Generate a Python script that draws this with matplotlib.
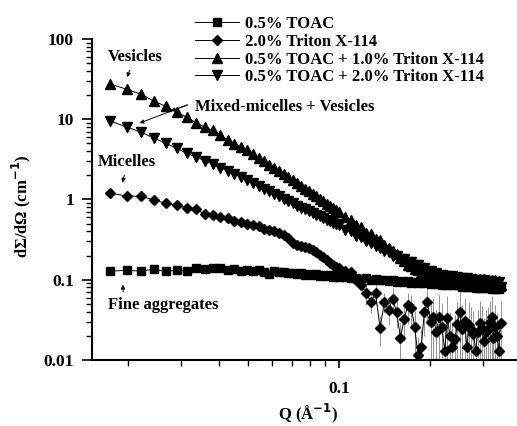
import matplotlib
matplotlib.use("Agg")
import matplotlib.pyplot as plt
from matplotlib.ticker import LogLocator, NullFormatter, FixedLocator, FixedFormatter

plt.rcParams["font.family"] = ["Liberation Serif", "DejaVu Serif"]
plt.rcParams["font.weight"] = "bold"
plt.rcParams["mathtext.default"] = "bf"

# scattering vector Q (1/A)
q = [0.0175, 0.0198, 0.0221, 0.0244, 0.0267, 0.0290, 0.0313, 0.0336, 0.0359, 0.0382,
     0.0405, 0.0428, 0.0451, 0.0474, 0.0497, 0.0520, 0.0543, 0.0566, 0.0589, 0.0612,
     0.0635, 0.0658, 0.0681, 0.0704, 0.0727, 0.0750, 0.0773, 0.0796, 0.0819, 0.0842,
     0.0865, 0.0888, 0.0911, 0.0934, 0.0957, 0.0980, 0.1003, 0.1049, 0.1095, 0.1141,
     0.1187, 0.1233, 0.1279, 0.1325, 0.1371, 0.1417, 0.1463, 0.1509, 0.1555, 0.1601,
     0.1647, 0.1693, 0.1739, 0.1785, 0.1831, 0.1877, 0.1923, 0.1969, 0.2015, 0.2061,
     0.2107, 0.2153, 0.2199, 0.2245, 0.2291, 0.2337, 0.2383, 0.2429, 0.2475, 0.2521,
     0.2567, 0.2613, 0.2659, 0.2705, 0.2751, 0.2797, 0.2843, 0.2889, 0.2935, 0.2981,
     0.3027, 0.3073, 0.3119, 0.3165, 0.3211, 0.3257, 0.3303, 0.3349, 0.3395, 0.3441]

# 0.5% TOAC
toac = [0.128, 0.131, 0.128, 0.135, 0.127, 0.131, 0.128, 0.138, 0.136, 0.140,
        0.138, 0.131, 0.135, 0.130, 0.133, 0.129, 0.131, 0.126, 0.118, 0.127,
        0.124, 0.125, 0.121, 0.123, 0.119, 0.121, 0.116, 0.119, 0.113, 0.117,
        0.112, 0.115, 0.110, 0.113, 0.109, 0.111, 0.107, 0.108, 0.104, 0.106,
        0.102, 0.104, 0.099, 0.102, 0.098, 0.100, 0.096, 0.099, 0.095, 0.097,
        0.093, 0.096, 0.092, 0.095, 0.091, 0.094, 0.090, 0.093, 0.089, 0.092,
        0.088, 0.091, 0.087, 0.090, 0.086, 0.089, 0.085, 0.088, 0.085, 0.087,
        0.081, 0.088, 0.080, 0.087, 0.080, 0.086, 0.079, 0.086, 0.079, 0.085,
        0.078, 0.085, 0.078, 0.084, 0.077, 0.084, 0.077, 0.083, 0.076, 0.082]

# 2.0% Triton X-114
triton = [1.20, 1.10, 1.10, 0.98, 0.90, 0.85, 0.78, 0.76, 0.66, 0.64,
          0.61, 0.58, 0.54, 0.52, 0.50, 0.48, 0.47, 0.43, 0.42, 0.40,
          0.385, 0.36, 0.33, 0.29, 0.27, 0.265, 0.255, 0.245, 0.235, 0.222,
          0.205, 0.19, 0.175, 0.162, 0.152, 0.145, 0.138, 0.13, 0.125, 0.10,
          0.085, 0.068, 0.053, 0.068, 0.025, 0.053, 0.042, 0.058, 0.040, 0.019,
          0.032, 0.048, 0.045, 0.026, 0.0115, 0.0145, 0.040, 0.053, 0.030, 0.034,
          0.022, 0.034, 0.026, 0.013, 0.033, 0.020, 0.0145, 0.018, 0.028, 0.040,
          0.024, 0.031, 0.0145, 0.027, 0.024, 0.021, 0.013, 0.022, 0.029, 0.025,
          0.017, 0.022, 0.024, 0.030, 0.034, 0.019, 0.026, 0.020, 0.013, 0.029]

# error bars of the noisy Triton points (from index 41 on)
err_start = 41
triton_err = [0.02, 0.015, 0.02, 0.01, 0.015, 0.015, 0.02, 0.015, 0.01,
              0.015, 0.02, 0.02, 0.015, 0.008, 0.01, 0.02, 0.025, 0.02, 0.025,
              0.02, 0.03, 0.025, 0.012, 0.03, 0.02, 0.015, 0.018, 0.025, 0.03,
              0.024, 0.028, 0.014, 0.026, 0.022, 0.02, 0.012, 0.02, 0.025, 0.022,
              0.016, 0.02, 0.022, 0.025, 0.028, 0.018, 0.022, 0.018, 0.012, 0.025]

# 0.5% TOAC + 1.0% Triton X-114
mix1 = [27.5, 23.6, 20.5, 16.8, 14.5, 12.2, 10.6, 9.1, 7.95, 7.3,
        6.34, 5.57, 4.95, 4.48, 4.09, 3.68, 3.31, 2.99, 2.71, 2.46,
        2.25, 2.06, 1.89, 1.74, 1.60, 1.48, 1.37, 1.27, 1.18, 1.09,
        1.02, 0.95, 0.89, 0.83, 0.78, 0.735, 0.70, 0.60, 0.56, 0.48,
        0.45, 0.38, 0.37, 0.32, 0.31, 0.27, 0.25, 0.225, 0.21, 0.185,
        0.172, 0.152, 0.148, 0.135, 0.134, 0.121, 0.123, 0.110, 0.114, 0.106,
        0.115, 0.099, 0.114, 0.097, 0.112, 0.095, 0.110, 0.094, 0.108, 0.093,
        0.106, 0.092, 0.105, 0.091, 0.104, 0.090, 0.103, 0.089, 0.102, 0.088,
        0.101, 0.087, 0.100, 0.086, 0.099, 0.086, 0.098, 0.085, 0.097, 0.085]

# 0.5% TOAC + 2.0% Triton X-114
mix2 = [9.5, 8.0, 6.9, 5.8, 5.0, 4.35, 3.78, 3.37, 3.05, 2.76,
        2.50, 2.29, 2.10, 1.90, 1.75, 1.61, 1.48, 1.37, 1.26, 1.17,
        1.09, 1.02, 0.953, 0.896, 0.840, 0.794, 0.754, 0.717, 0.682, 0.647,
        0.620, 0.590, 0.562, 0.536, 0.511, 0.489, 0.475, 0.42, 0.40, 0.355,
        0.34, 0.30, 0.29, 0.26, 0.25, 0.225, 0.222, 0.20, 0.199, 0.183,
        0.182, 0.168, 0.166, 0.153, 0.154, 0.140, 0.139, 0.128, 0.129, 0.118,
        0.121, 0.106, 0.115, 0.101, 0.112, 0.099, 0.110, 0.097, 0.108, 0.095,
        0.106, 0.093, 0.104, 0.091, 0.102, 0.090, 0.100, 0.089, 0.099, 0.088,
        0.098, 0.086, 0.096, 0.085, 0.095, 0.084, 0.094, 0.083, 0.093, 0.082]

labels = ["0.5% TOAC", "2.0% Triton X-114",
          "0.5% TOAC + 1.0% Triton X-114", "0.5% TOAC + 2.0% Triton X-114"]

fig = plt.figure(figsize=(5.17, 4.26), dpi=100)
ax = fig.add_axes([0.178, 0.155, 0.822, 0.7535])

ax.errorbar(q[err_start:], triton[err_start:], yerr=triton_err, fmt="none",
            ecolor="0.5", elinewidth=0.6, zorder=1)

ax.plot(q, toac, "-s", color="black", ms=5.5, lw=0.7, label=labels[0], zorder=3)
ax.plot(q, triton, "-D", color="black", ms=5, lw=0.7, label=labels[1], zorder=2)
ax.plot(q, mix1, "-^", color="black", ms=6.5, lw=0.7, label=labels[2], zorder=3)
ax.plot(q, mix2, "-v", color="black", ms=6.5, lw=0.7, label=labels[3], zorder=3)

ax.set_xscale("log")
ax.set_yscale("log")
ax.set_xlim(0.0152, 0.39)
ax.set_ylim(0.01, 100)

ax.spines["top"].set_visible(False)
ax.spines["right"].set_visible(False)
ax.spines["left"].set_linewidth(1.5)
ax.spines["bottom"].set_linewidth(1.5)

ax.xaxis.set_major_locator(FixedLocator([0.1]))
ax.xaxis.set_major_formatter(FixedFormatter(["0.1"]))
ax.xaxis.set_minor_locator(LogLocator(base=10, subs=range(2, 10)))
ax.xaxis.set_minor_formatter(NullFormatter())
ax.yaxis.set_major_locator(FixedLocator([0.01, 0.1, 1, 10, 100]))
ax.yaxis.set_major_formatter(FixedFormatter(["0.01", "0.1", "1", "10", "100"]))
ax.yaxis.set_minor_locator(LogLocator(base=10, subs=range(2, 10)))
ax.yaxis.set_minor_formatter(NullFormatter())

ax.tick_params(axis="both", which="major", labelsize=12.5, width=1.2)
ax.tick_params(axis="y", which="major", length=7, pad=6)
ax.tick_params(axis="y", which="minor", length=4, width=1)
ax.tick_params(axis="x", which="major", length=6, pad=9)
ax.tick_params(axis="x", which="minor", length=4, width=1)

ax.set_ylabel("dΣ/dΩ (cm$^{-1}$)", fontsize=12, fontweight="bold")
ax.yaxis.set_label_coords(-0.14, 0.48)
ax.set_xlabel("Q (Å$^{-1}$)", fontsize=12, fontweight="bold")
ax.xaxis.set_label_coords(0.508, -0.13)

fig.legend(loc="upper left", bbox_to_anchor=(0.378, 0.962), frameon=False,
           fontsize=12, handlelength=2.6, handletextpad=0.35,
           labelspacing=0.1, borderpad=0, borderaxespad=0)

arrow = dict(arrowstyle="-|>", color="black", lw=0.7, mutation_scale=6)
ax.annotate("Vesicles", xy=(0.0197, 31), xytext=(0.0211, 60),
            ha="center", va="center", fontsize=12, fontweight="bold",
            arrowprops=arrow)
ax.annotate("Micelles", xy=(0.0191, 1.5), xytext=(0.0199, 2.95),
            ha="center", va="center", fontsize=12, fontweight="bold",
            arrowprops=arrow)
ax.annotate("Fine aggregates", xy=(0.0192, 0.094), xytext=(0.0262, 0.048),
            ha="center", va="center", fontsize=12, fontweight="bold",
            arrowprops=dict(arrowstyle="-|>", color="black", lw=0.7,
                            mutation_scale=6, relpos=(0.14, 1.0)))
ax.text(0.0334, 14.2, "Mixed-micelles + Vesicles", ha="left", va="center",
        fontsize=12, fontweight="bold")
ax.annotate("", xy=(0.0214, 8.7), xytext=(0.0321, 15.5), arrowprops=arrow)
ax.annotate("", xy=(0.0272, 12.3), xytext=(0.0321, 15.5), arrowprops=arrow)

fig.savefig("out.png", dpi=100)
